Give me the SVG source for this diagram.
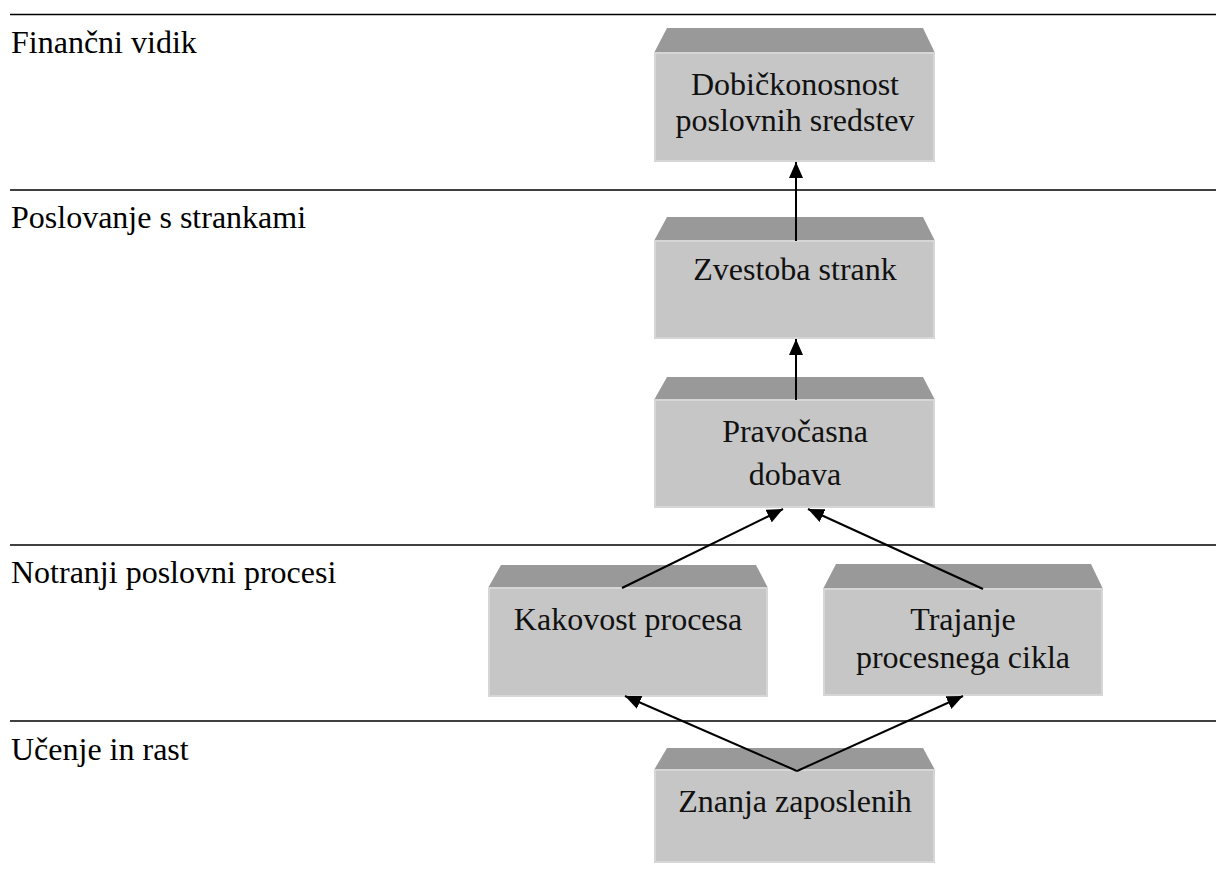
<svg xmlns="http://www.w3.org/2000/svg" width="1216" height="893" viewBox="0 0 1216 893">
<style>
.lane{stroke:#000;stroke-width:1.6;fill:none}
.lbl{font-family:"Liberation Serif","Times New Roman",serif;font-size:32px;fill:#000}
.txt{font-family:"Liberation Serif","Times New Roman",serif;font-size:32px;fill:#111;text-anchor:middle}
.top{fill:#999999}
.front{fill:#c6c6c6;stroke:#d6d6d6;stroke-width:2}
.conn{stroke:#000;stroke-width:2;fill:none;marker-end:url(#ah)}
</style>
<defs>
<marker id="ah" markerUnits="userSpaceOnUse" markerWidth="16" markerHeight="14" viewBox="0 0 16 14" refX="16" refY="7" orient="auto">
<path d="M0,0 L16,7 L0,14 Z" fill="#000"/>
</marker>
</defs>
<rect width="1216" height="893" fill="#fff"/>
<g id="lanes">
<line class="lane" x1="10" y1="14.5" x2="1216" y2="14.5"/>
<line class="lane" x1="10" y1="190" x2="1216" y2="190"/>
<line class="lane" x1="10" y1="545" x2="1216" y2="545"/>
<line class="lane" x1="10" y1="721" x2="1216" y2="721"/>
<text class="lbl" x="11" y="53">Finančni vidik</text>
<text class="lbl" x="11" y="228">Poslovanje s strankami</text>
<text class="lbl" x="11" y="583">Notranji poslovni procesi</text>
<text class="lbl" x="11" y="760">Učenje in rast</text>
</g>
<g id="n1">
<polygon class="top" points="667,28 923,28 935,53 654,53"/>
<rect class="front" x="655" y="53" width="279" height="108"/>
<text class="txt" x="795" y="95">Dobičkonosnost</text>
<text class="txt" x="795" y="131">poslovnih sredstev</text>
</g>
<g id="n2">
<polygon class="top" points="667,217 923,217 935,241 654,241"/>
<rect class="front" x="655" y="241" width="279" height="97"/>
<text class="txt" x="795" y="280">Zvestoba strank</text>
</g>
<g id="n3">
<polygon class="top" points="667,377 923,377 935,400 654,400"/>
<rect class="front" x="655" y="400" width="279" height="107"/>
<text class="txt" x="795" y="442">Pravočasna</text>
<text class="txt" x="795" y="485">dobava</text>
</g>
<g id="n4">
<polygon class="top" points="501,565 756,565 768,588 488,588"/>
<rect class="front" x="489" y="588" width="278" height="108"/>
<text class="txt" x="628" y="630">Kakovost procesa</text>
</g>
<g id="n5">
<polygon class="top" points="836,564 1091,564 1103,589 823,589"/>
<rect class="front" x="824" y="589" width="278" height="106"/>
<text class="txt" x="963" y="630">Trajanje</text>
<text class="txt" x="963" y="668">procesnega cikla</text>
</g>
<g id="n6">
<polygon class="top" points="667,748 923,748 935,770 654,770"/>
<rect class="front" x="655" y="770" width="279" height="92"/>
<text class="txt" x="795" y="812">Znanja zaposlenih</text>
</g>
<g id="connectors">
<line class="conn" x1="796" y1="241" x2="796" y2="162"/>
<line class="conn" x1="796" y1="400" x2="796" y2="339"/>
<line class="conn" x1="622" y1="588" x2="783" y2="509"/>
<line class="conn" x1="983" y1="589" x2="808" y2="509"/>
<line class="conn" x1="797" y1="771" x2="625" y2="696"/>
<line class="conn" x1="797" y1="771" x2="963" y2="696"/>
</g>
</svg>
